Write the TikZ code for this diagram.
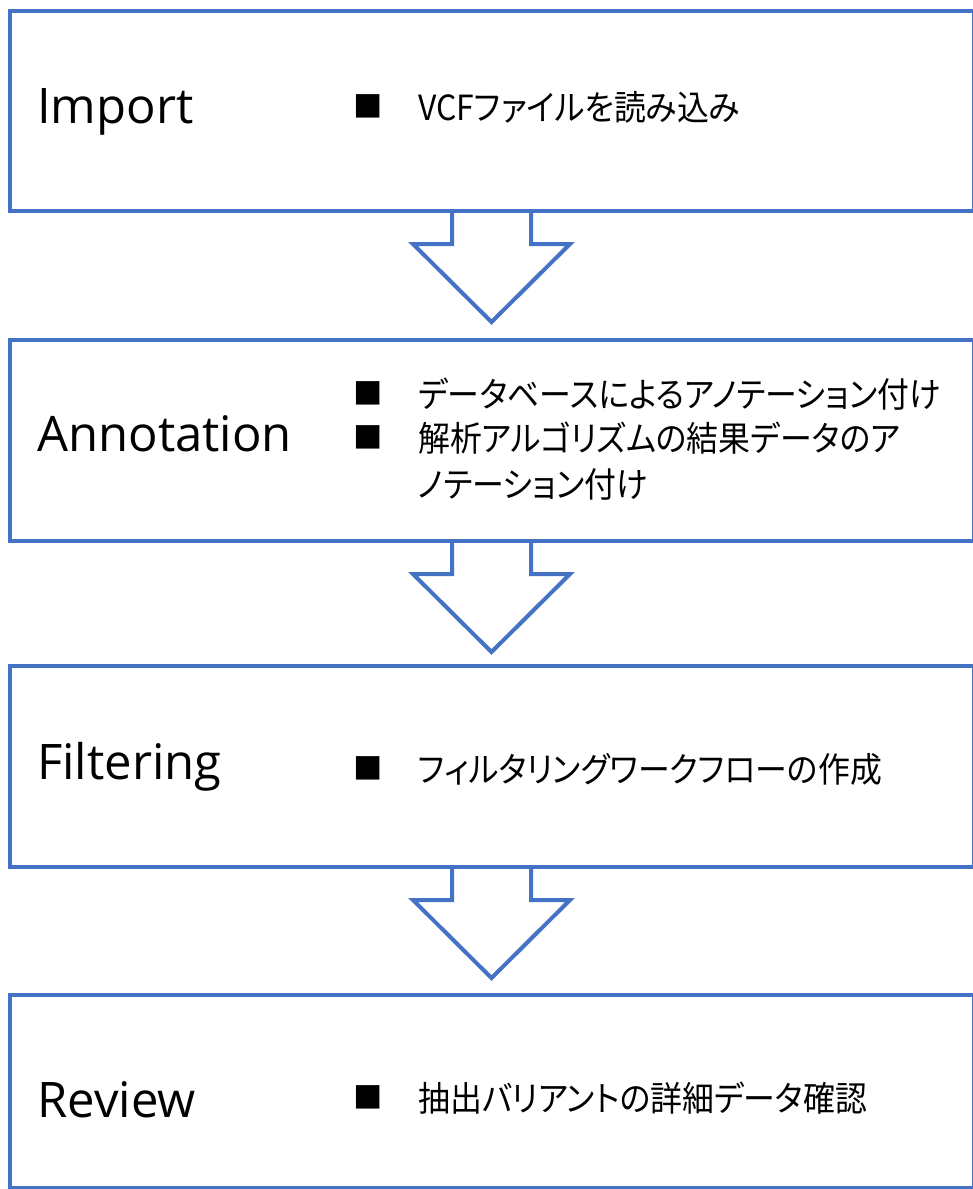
\documentclass[tikz,border=0pt]{standalone}
\usepackage{fontspec}
\setmainfont{Open Sans}
\newfontfamily\jp[RawFeature=+palt,FakeStretch=0.92]{Noto Sans CJK JP}
\newfontfamily\jpsym{Noto Sans CJK JP}
\usetikzlibrary{fit,calc}
\definecolor{obl}{HTML}{4472C4}
\tikzset{
  box/.style={draw=obl, line width=3pt, fill=white, inner sep=0pt},
  lbl/.style={anchor=base west, inner sep=0pt, font=\fontsize{36.75pt}{44pt}\selectfont},
  jtxt/.style={anchor=base west, inner sep=0pt, font=\jp\fontsize{26pt}{33.75pt}\selectfont},
  bul/.style={anchor=center, inner sep=0pt, font=\jpsym\fontsize{22pt}{26pt}\selectfont},
  arrfill/.style={fill=white},
  arrline/.style={draw=obl, line width=3pt, line join=miter}
}
\newcommand{\blockarrow}[2]{%
  \fill[arrfill] ($(#1.south)+(-39.5,0)$) -- ($(#1.south)+(-39.5,31)$) -- ($(#1.south)+(-78.5,31)$) -- ($(#1.south)+(0,109)$) -- ($(#1.south)+(78.5,31)$) -- ($(#1.south)+(39.5,31)$) -- ($(#1.south)+(39.5,0)$) -- cycle;
  \draw[arrline] ($(#1.south)+(-39.5,0)$) -- ($(#1.south)+(-39.5,31)$) -- ($(#1.south)+(-78.5,31)$) -- ($(#1.south)+(0,109)$) coordinate (#2) -- ($(#1.south)+(78.5,31)$) -- ($(#1.south)+(39.5,31)$) -- ($(#1.south)+(39.5,0)$);
}
\begin{document}
\begin{tikzpicture}[x=0.75pt,y=-0.75pt]
\useasboundingbox (0,0) rectangle (973,1189);
\node[box, fit={(9.5,11)(973.5,211)}] (b1) {};
\node[box, fit={(9.5,340)(973.5,541)}] (b2) {};
\node[box, fit={(9.5,666)(973.5,867)}] (b3) {};
\node[box, fit={(9.5,995)(973.5,1187.5)}] (b4) {};
\blockarrow{b1}{tip1}
\blockarrow{b2}{tip2}
\blockarrow{b3}{tip3}

\node[lbl] (l1) at (37,123) {Import};
\node[lbl] (l2) at (37,451) {Annotation};
\node[lbl] (l3) at (37,779) {Filtering};
\node[lbl] (l4) at (37,1117) {Review};

\node[bul] (u1) at (368,106) {■};
\node[jtxt] (j1) at (418,120) {VCFファイルを読み込み};
\node[bul] (u2) at (368,393) {■};
\node[jtxt] (j2) at (418,407) {データベースによるアノテーション付け};
\node[bul] (u3) at (368,437) {■};
\node[jtxt] (j3) at (418,451) {解析アルゴリズムの結果データのア};
\node[jtxt] (j4) at (418,497) {ノテーション付け};
\node[bul] (u4) at (368,768) {■};
\node[jtxt] (j5) at (418,782) {フィルタリングワークフローの作成};
\node[bul] (u5) at (368,1097) {■};
\node[jtxt] (j6) at (418,1111) {抽出バリアントの詳細データ確認};
\end{tikzpicture}
\end{document}
